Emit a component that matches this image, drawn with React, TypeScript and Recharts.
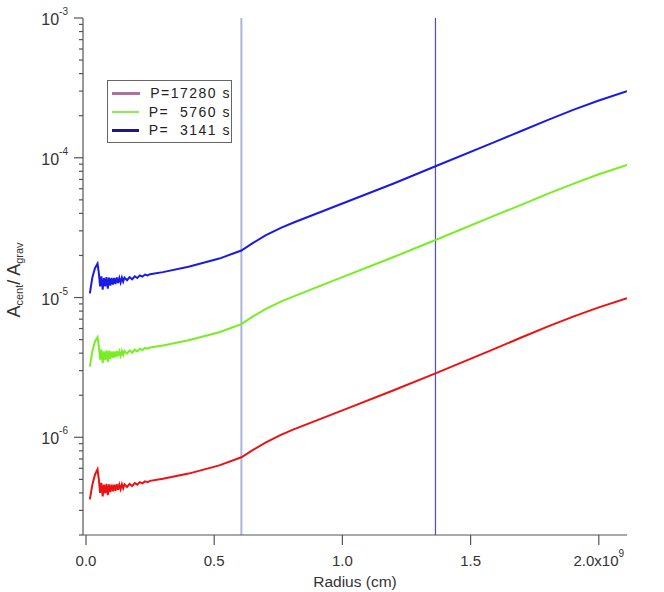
import React from 'react'
import { LineChart, Line, XAxis, YAxis, ReferenceLine, Legend } from 'recharts'

// radius (cm): noisy inner part, then the smooth run
const radius = [
  0.015e9, 0.025e9, 0.035e9, 0.045e9, 0.05e9, 0.055e9, 0.06e9, 0.065e9, 0.07e9, 0.075e9,
  0.08e9, 0.085e9, 0.09e9, 0.095e9, 0.1e9, 0.105e9, 0.11e9, 0.115e9, 0.12e9, 0.125e9,
  0.13e9, 0.135e9, 0.14e9, 0.145e9, 0.15e9, 0.16e9, 0.17e9, 0.18e9, 0.19e9, 0.2e9,
  0.21e9, 0.22e9, 0.23e9, 0.24e9,
  0.25e9, 0.3e9, 0.4e9, 0.52e9, 0.606e9, 0.65e9, 0.7e9, 0.76e9, 0.81e9, 1.0e9,
  1.2e9, 1.363e9, 1.6e9, 1.7e9, 1.8e9, 1.9e9, 2.0e9, 2.11e9,
]

const p17280 = [
  3.6e-7, 4.6e-7, 5.4e-7, 5.9e-7, 5.0e-7, 4.0e-7, 4.72e-7, 3.78e-7, 4.58e-7, 3.98e-7,
  4.64e-7, 3.85e-7, 4.61e-7, 4.05e-7, 4.58e-7, 4.11e-7, 4.58e-7, 4.15e-7, 4.61e-7, 4.22e-7,
  4.58e-7, 4.25e-7, 4.61e-7, 4.31e-7, 4.61e-7, 4.41e-7, 4.64e-7, 4.48e-7, 4.71e-7, 4.58e-7,
  4.78e-7, 4.68e-7, 4.84e-7, 4.78e-7,
  4.88e-7, 5.05e-7, 5.5e-7, 6.3e-7, 7.2e-7, 8.1e-7, 9.15e-7, 1.04e-6, 1.14e-6, 1.56e-6,
  2.17e-6, 2.87e-6, 4.35e-6, 5.2e-6, 6.2e-6, 7.3e-6, 8.5e-6, 9.9e-6,
]

const p5760 = [
  3.2e-6, 4.15e-6, 4.85e-6, 5.2e-6, 4.5e-6, 3.6e-6, 4.25e-6, 3.4e-6, 4.12e-6, 3.58e-6,
  4.18e-6, 3.46e-6, 4.15e-6, 3.64e-6, 4.12e-6, 3.7e-6, 4.12e-6, 3.73e-6, 4.15e-6, 3.8e-6,
  4.12e-6, 3.82e-6, 4.15e-6, 3.88e-6, 4.15e-6, 3.97e-6, 4.18e-6, 4.03e-6, 4.24e-6, 4.12e-6,
  4.3e-6, 4.21e-6, 4.36e-6, 4.3e-6,
  4.39e-6, 4.54e-6, 4.95e-6, 5.65e-6, 6.45e-6, 7.3e-6, 8.25e-6, 9.35e-6, 1.02e-5, 1.4e-5,
  1.95e-5, 2.58e-5, 3.9e-5, 4.62e-5, 5.52e-5, 6.5e-5, 7.62e-5, 8.9e-5,
]

const p3141 = [
  1.07e-5, 1.4e-5, 1.62e-5, 1.75e-5, 1.5e-5, 1.2e-5, 1.42e-5, 1.14e-5, 1.38e-5, 1.2e-5,
  1.4e-5, 1.16e-5, 1.39e-5, 1.22e-5, 1.38e-5, 1.24e-5, 1.38e-5, 1.25e-5, 1.39e-5, 1.27e-5,
  1.38e-5, 1.28e-5, 1.39e-5, 1.3e-5, 1.39e-5, 1.33e-5, 1.4e-5, 1.35e-5, 1.42e-5, 1.38e-5,
  1.44e-5, 1.41e-5, 1.46e-5, 1.44e-5,
  1.47e-5, 1.52e-5, 1.66e-5, 1.9e-5, 2.17e-5, 2.45e-5, 2.78e-5, 3.15e-5, 3.44e-5, 4.71e-5,
  6.55e-5, 8.7e-5, 1.31e-4, 1.56e-4, 1.86e-4, 2.2e-4, 2.57e-4, 3.0e-4,
]

const xTicks = [0, 0.5e9, 1.0e9, 1.5e9, 2.0e9]
const xTickLabels = ['0.0', '0.5', '1.0', '1.5', '2.0x10']

const yDecades = [-7, -6, -5, -4]
const yTicks = [
  ...yDecades.flatMap(e => [1, 2, 3, 4, 5, 6, 7, 8, 9].map(m => m * Math.pow(10, e))),
  1e-3,
].filter(v => v >= 2e-7 * 0.999 && v <= 1e-3 * 1.001)

const markers = [0.606e9, 1.363e9]

const legendItems = [
  { name: 'P=17280 s', color: '#b0709a' },
  { name: 'P=  5760 s', color: '#88ee55' },
  { name: 'P=  3141 s', color: '#1a1a80' },
]

const data = radius.map((r, i) => ({ r, a: p17280[i], b: p5760[i], c: p3141[i] }))

const FONT = '"Liberation Sans", Arial, sans-serif'
const AXIS = '#555'

const YTick = ({ x, y, payload }: any) => {
  const v = payload.value
  const lg = Math.log10(v)
  const major = Math.abs(lg - Math.round(lg)) < 1e-6
  return (
    <g>
      <line x1={x} x2={x - (major ? 9 : 4)} y1={y} y2={y} stroke={AXIS} strokeWidth={1.2} />
      {major && (
        <text x={x - 15} y={y + 7} textAnchor="end" fontSize={16} fill="#333" fontFamily={FONT}>
          10<tspan dy={-10} fontSize={10}>{Math.round(lg)}</tspan>
        </text>
      )}
    </g>
  )
}

const XTick = ({ x, y, payload, index }: any) => {
  const last = payload.value === 2.0e9
  return (
    <g>
      <line x1={x} x2={x} y1={y} y2={y + 10} stroke={AXIS} strokeWidth={1.2} />
      <text x={x} y={y + 31} textAnchor="middle" fontSize={15} fill="#333" fontFamily={FONT}>
        {xTickLabels[index] ?? ''}
        {last && <tspan dy={-9} fontSize={10}>9</tspan>}
      </text>
    </g>
  )
}

const LegendBox = () => (
  <div style={{
    border: '1px solid #666', width: 125, height: 63, boxSizing: 'border-box',
    background: '#fff', fontFamily: FONT, fontSize: 14, color: '#222', paddingTop: 3,
  }}>
    {legendItems.map(it => (
      <div key={it.name} style={{ display: 'flex', alignItems: 'center', height: 18.5 }}>
        <div style={{ width: 30, height: 2.5, background: it.color, marginLeft: 4, marginRight: 10 }} />
        <span style={{ whiteSpace: 'pre', letterSpacing: 1.5 }}>{it.name}</span>
      </div>
    ))}
  </div>
)

export default function App() {
  return (
    <div style={{ position: 'absolute', left: 0, top: 0, width: 664, height: 592, background: '#fff' }}>
      <LineChart width={664} height={592} data={data} margin={{ top: 18, right: 37, left: 0, bottom: 0 }}>
        <XAxis
          type="number" dataKey="r" domain={[0, 2.11e9]} ticks={xTicks} interval={0}
          padding={{ left: 3, right: 0 }} allowDataOverflow height={57}
          axisLine={{ stroke: AXIS, strokeWidth: 1.2 }} tickLine={false} tickSize={0} tickMargin={0}
          tick={<XTick />}
          label={{ value: 'Radius (cm)', position: 'insideBottom', offset: 5, fill: '#333', fontSize: 15.5, fontFamily: FONT }}
        />
        <YAxis
          scale="log" domain={[2e-7, 1e-3]} ticks={yTicks} interval={0} allowDataOverflow width={83}
          axisLine={{ stroke: AXIS, strokeWidth: 1.2 }} tickLine={false} tickSize={0} tickMargin={0}
          tick={<YTick />}
          label={{
            content: () => (
              <text x={20} y={280} transform="rotate(-90, 20, 280)" textAnchor="middle"
                fontSize={18} fill="#333" fontFamily={FONT}>
                A<tspan fontSize={11} dy={3}>cent</tspan><tspan dy={-3}>/ A</tspan>
                <tspan fontSize={11} dy={3}>grav</tspan>
              </text>
            ),
          }}
        />
        {markers.map((m, i) => (
          <ReferenceLine key={m} x={m} stroke={i === 0 ? '#aab4dc' : '#4a4ae0'} strokeWidth={i === 0 ? 2 : 1.2} />
        ))}
        <Legend layout="horizontal" verticalAlign="middle" content={<LegendBox />}
          wrapperStyle={{ left: 107, top: 80, width: 125 }} />
        <Line type="linear" dataKey="a" stroke="#ee1111" strokeWidth={2} dot={false} isAnimationActive={false} name="P=17280 s" />
        <Line type="linear" dataKey="b" stroke="#77ee22" strokeWidth={2} dot={false} isAnimationActive={false} name="P=  5760 s" />
        <Line type="linear" dataKey="c" stroke="#1a1ae6" strokeWidth={2} dot={false} isAnimationActive={false} name="P=  3141 s" />
      </LineChart>
    </div>
  )
}
